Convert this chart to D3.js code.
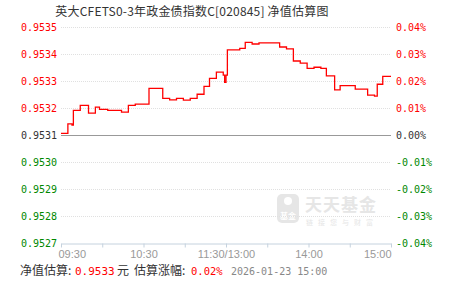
<!DOCTYPE html>
<html>
<head>
<meta charset="utf-8">
<script src="https://cdn.jsdelivr.net/npm/d3@7"></script>
<style>
  body { margin: 0; background: #fff; }
  svg { display: block; }
</style>
</head>
<body>
<div id="chart"></div>
<script>
// chart data
var title = "英大CFETS0-3年政金债指数C[020845] 净值估算图";
var baseNav = 0.9531;
var navTicks = [0.9535, 0.9534, 0.9533, 0.9532, 0.9531, 0.9530, 0.9529, 0.9528, 0.9527];
var pctTicks = ["0.04%", "0.03%", "0.02%", "0.01%", "0.00%", "-0.01%", "-0.02%", "-0.03%", "-0.04%"];
var timeLabels = ["09:30", "", "10:30", "", "11:30/13:00", "", "14:00", "", "15:00"];

// estimated nav, step changes
var times = ["09:30", "09:35", "09:38", "09:39", "09:44", "09:50", "09:55", "09:58", "10:04", "10:14",
             "10:19", "10:24", "10:34", "10:44", "10:49", "10:54", "10:59", "11:04", "11:09", "11:14",
             "11:18", "11:23", "11:28", "11:29", "11:30", "13:01", "13:10", "13:14", "13:19", "13:24",
             "13:39", "13:44", "13:49", "13:54", "13:59", "14:04", "14:09", "14:13", "14:19", "14:23",
             "14:34", "14:43", "14:48", "14:50", "14:54", "15:00"];
var navs = [0.953106, 0.953141, 0.953137, 0.953191, 0.953210, 0.953181, 0.953203, 0.953195, 0.953191, 0.953185,
            0.953210, 0.953214, 0.953273, 0.953236, 0.953230, 0.953236, 0.953229, 0.953236, 0.953251, 0.953280,
            0.953310, 0.953333, 0.953322, 0.953295, 0.953322, 0.953415, 0.953421, 0.953443, 0.953437, 0.953441,
            0.953426, 0.953419, 0.953374, 0.953366, 0.953347, 0.953351, 0.953347, 0.953319, 0.953267, 0.953283,
            0.953270, 0.953248, 0.953244, 0.953288, 0.953317, 0.953317];

var width = 451, height = 281;
var margin = { top: 27, right: 60, bottom: 38, left: 61 };

var svg = d3.select("#chart").append("svg")
    .attr("width", width)
    .attr("height", height);

// trading minutes since 09:30, lunch break removed
function tradeMinute(t) {
    var p = t.split(":"), m = +p[0] * 60 + +p[1];
    return m < 780 ? m - 570 : m - 780 + 120;
}

var x = d3.scaleLinear().domain([0, 240]).range([margin.left, width - margin.right]);
var y = d3.scaleLinear().domain([0.9527, 0.9535]).range([height - margin.bottom, margin.top]);

function labelColor(v) {
    if (Math.abs(v - baseNav) < 1e-7) return "#333";
    return v > baseNav ? "#f00" : "#080";
}

// title
svg.append("text")
    .attr("x", 192).attr("y", 16)
    .attr("text-anchor", "middle")
    .style("font-family", "'Noto Sans CJK SC', sans-serif")
    .style("font-size", "12px")
    .style("letter-spacing", "0.2px")
    .attr("fill", "#333")
    .text(title);

// watermark
var wm = svg.append("g").attr("fill", "#e6e6e6");
wm.append("rect").attr("x", 277).attr("y", 194).attr("width", 22).attr("height", 29).attr("rx", 5);
wm.append("circle").attr("cx", 288).attr("cy", 201).attr("r", 4).attr("fill", "#fff");
wm.append("text").attr("x", 288).attr("y", 219).attr("text-anchor", "middle")
    .attr("fill", "#fff")
    .style("font-family", "'Noto Sans CJK SC', sans-serif").style("font-size", "8px").style("font-weight", "bold")
    .text("基金");
wm.append("text").attr("x", 341).attr("y", 211).attr("text-anchor", "middle")
    .style("font-family", "'Noto Sans CJK SC', sans-serif").style("font-size", "17px").style("font-weight", "bold")
    .style("letter-spacing", "1px")
    .text("天天基金");
wm.append("text").attr("x", 342).attr("y", 225).attr("text-anchor", "middle")
    .style("font-family", "'Noto Sans CJK SC', sans-serif").style("font-size", "7px")
    .style("letter-spacing", "5px")
    .text("链接您与财富");

// grid lines
svg.append("g")
    .selectAll("line")
    .data(navTicks.filter(function (d) { return d !== baseNav && d !== 0.9527; }))
    .enter().append("line")
    .attr("x1", x(0)).attr("x2", x(240))
    .attr("y1", function (d) { return Math.round(y(d)) + 0.5; })
    .attr("y2", function (d) { return Math.round(y(d)) + 0.5; })
    .attr("stroke", "#e0e0e0")
    .attr("stroke-dasharray", "1,1");

svg.append("line")
    .attr("x1", x(0)).attr("x2", x(240))
    .attr("y1", Math.round(y(baseNav)) + 0.5).attr("y2", Math.round(y(baseNav)) + 0.5)
    .attr("stroke", "#999");

// left axis
var leftAxis = svg.append("g")
    .attr("transform", "translate(" + margin.left + ",0)")
    .call(d3.axisLeft(y).tickValues(navTicks).tickSize(0).tickPadding(4).tickFormat(d3.format(".4f")));
leftAxis.select(".domain").remove();
leftAxis.selectAll("text")
    .style("font-family", "'DejaVu Sans Mono', monospace")
    .style("font-size", "10px")
    .attr("fill", function (d) { return labelColor(d); });

// right axis
var rightAxis = svg.append("g")
    .attr("transform", "translate(" + x(240) + ",0)")
    .call(d3.axisRight(y).tickValues(navTicks).tickSize(0).tickPadding(5)
        .tickFormat(function (d, i) { return pctTicks[i]; }));
rightAxis.select(".domain").remove();
rightAxis.selectAll("text")
    .style("font-family", "'DejaVu Sans Mono', monospace")
    .style("font-size", "10px")
    .attr("fill", function (d) { return labelColor(d); });

// bottom axis
var bottomAxis = svg.append("g")
    .attr("transform", "translate(0," + (Math.round(y(0.9527)) + 0.5) + ")")
    .call(d3.axisBottom(x).tickValues(d3.range(0, 241, 30)).tickSize(4).tickSizeOuter(0).tickPadding(3)
        .tickFormat(function (d, i) { return timeLabels[i]; }));
bottomAxis.select(".domain").attr("stroke", "#c5d2de");
bottomAxis.selectAll(".tick line").attr("stroke", "#c5d2de");
bottomAxis.selectAll("text")
    .style("font-family", "'Liberation Sans', Arial, sans-serif")
    .style("font-size", "11px")
    .attr("fill", "#999")
    .attr("text-anchor", function (d, i) { return i === 0 ? "start" : i === 8 ? "end" : "middle"; })
    .attr("dx", function (d, i) { return i === 0 ? -3 : 0; });

// estimate line
var series = times.map(function (t, i) { return { m: tradeMinute(t), v: navs[i] }; });
svg.append("path")
    .datum(series)
    .attr("fill", "none")
    .attr("stroke", "#f00")
    .attr("stroke-width", 1.3)
    .attr("d", d3.line()
        .curve(d3.curveStepAfter)
        .x(function (d) { return x(d.m); })
        .y(function (d) { return y(d.v); }));

// footer
var foot = svg.append("g")
    .style("font-size", "12px");
var fy = 275;
foot.append("text").attr("x", 20).attr("y", fy)
    .style("font-family", "'Noto Sans CJK SC', sans-serif").attr("fill", "#333").text("净值估算:");
foot.append("text").attr("x", 75).attr("y", fy)
    .style("font-family", "'DejaVu Sans Mono', monospace").style("font-size", "11px")
    .attr("fill", "#f00").text("0.9533");
foot.append("text").attr("x", 117).attr("y", fy)
    .style("font-family", "'Noto Sans CJK SC', sans-serif").attr("fill", "#333").text("元");
foot.append("text").attr("x", 134).attr("y", fy)
    .style("font-family", "'Noto Sans CJK SC', sans-serif").attr("fill", "#333").text("估算涨幅:");
foot.append("text").attr("x", 191).attr("y", fy)
    .style("font-family", "'DejaVu Sans Mono', monospace").style("font-size", "10.5px")
    .attr("fill", "#f00").text("0.02%");
foot.append("text").attr("x", 231).attr("y", fy)
    .style("font-family", "'DejaVu Sans Mono', monospace").style("font-size", "10px")
    .attr("fill", "#888").text("2026-01-23 15:00");
</script>
</body>
</html>
